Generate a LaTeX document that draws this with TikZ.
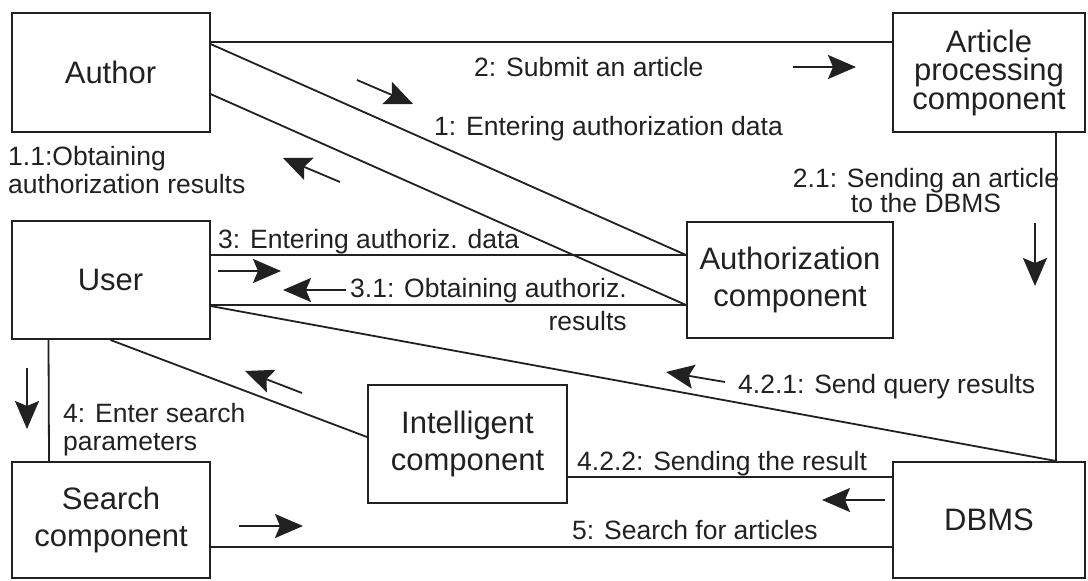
\documentclass[tikz,border=0pt]{standalone}
\usepackage{fontspec}
\setmainfont{Liberation Sans}
\usetikzlibrary{arrows.meta}
\definecolor{ink}{rgb}{0.13,0.13,0.13}
\begin{document}
\begin{tikzpicture}[x=1pt,y=-1pt,
  box/.style={draw=ink,text=ink,line width=2pt,inner sep=0pt,align=center,font=\fontsize{31}{37}\selectfont},
  lnk/.style={draw=ink,line width=1.8pt},
  arr/.style={draw=ink,fill=ink,line width=1.8pt,-{Stealth[length=28pt,width=24pt,inset=5pt]}},
  lbl/.style={inner sep=0pt,text=ink,font=\fontsize{26.5}{28}\selectfont},
]
\useasboundingbox (0,0) rectangle (1088,581);
\fill[white] (0,0) rectangle (1088,581);
% boxes
\node[box,minimum width=198pt,minimum height=119pt] (author) at (110.5,72.5) {Author};
\node[box,minimum width=192pt,minimum height=119pt,font=\fontsize{31}{28.5}\selectfont] (article) at (989,72.5) {Article\\processing\\component};
\node[box,minimum width=198pt,minimum height=118pt] (user) at (110.5,280) {User};
\node[box,minimum width=206pt,minimum height=116pt] (auth) at (790,280) {Authorization\\component};
\node[box,minimum width=199pt,minimum height=118pt] (intel) at (467.5,444) {Intelligent\\component};
\node[box,minimum width=198pt,minimum height=116pt] (search) at (111,520) {Search\\component};
\node[box,minimum width=192pt,minimum height=116pt] (dbms) at (989,520) {DBMS};
% connectors
\draw[lnk] ([yshift=-30pt]author.north east) -- ([yshift=-30pt]article.north west);
\draw[lnk] ([yshift=-32pt]author.north east) -- ([yshift=-34pt]auth.north west);
\draw[lnk] ([yshift=-82pt]author.north east) -- ([yshift=-84pt]auth.north west);
\draw[lnk] ([yshift=-35pt]user.north east) -- ([yshift=-34pt]auth.north west);
\draw[lnk] ([yshift=-85pt]user.north east) -- ([yshift=-84pt]auth.north west);
\draw[lnk] ([yshift=-86pt]user.north east) -- ([xshift=-30pt]dbms.north east);
\draw[lnk] ([xshift=-30pt]article.south east) -- ([xshift=-30pt]dbms.north east);
\draw[lnk] ([xshift=38pt]user.south west) -- ([xshift=38pt]search.north west);
\draw[lnk] (user.south) -- ([yshift=-53pt]intel.north west);
\draw[lnk] ([yshift=-93pt]intel.north east) -- ([yshift=-16pt]dbms.north west);
\draw[lnk] ([yshift=-86pt]search.north east) -- ([yshift=-86pt]dbms.north west);
% direction arrows
\coordinate (a1s) at (357,80);  \coordinate (a1e) at (413,104);
\coordinate (a2s) at (340,182); \coordinate (a2e) at (283,158);
\coordinate (a3s) at (793,67);  \coordinate (a3e) at (856,67);
\coordinate (a4s) at (1035,223); \coordinate (a4e) at (1035,286);
\coordinate (a5s) at (218,271); \coordinate (a5e) at (281,271);
\coordinate (a6s) at (346,290); \coordinate (a6e) at (283,290);
\coordinate (a7s) at (725,382); \coordinate (a7e) at (666,372);
\coordinate (a8s) at (302,393); \coordinate (a8e) at (245,371);
\coordinate (a9s) at (27,368);  \coordinate (a9e) at (27,429);
\coordinate (a10s) at (885,500); \coordinate (a10e) at (822,500);
\coordinate (a11s) at (239,526); \coordinate (a11e) at (303,526);
\foreach \i in {1,...,11} \draw[arr] (a\i s) -- (a\i e);
% labels (multi-line nodes: base anchor = last line's baseline)
\node[lbl,anchor=base west] (l2) at (474,76) {2: Submit an article};
\node[lbl,anchor=base west] (l1) at (434,135) {1: Entering authorization data};
\node[lbl,anchor=base west,align=left] (l11) at (8,193) {1.1:Obtaining\\authorization results};
\node[lbl,anchor=base,align=center,font=\fontsize{26.5}{25}\selectfont] (l21) at (926,212) {2.1: Sending an article\\to the DBMS};
\node[lbl,anchor=base west] (l3) at (218,248) {3: Entering authoriz. data};
\node[lbl,anchor=base west,align=right,font=\fontsize{26.5}{33}\selectfont] (l31) at (350,330) {3.1: Obtaining authoriz.\\results};
\node[lbl,anchor=base west] (l421) at (738,393) {4.2.1: Send query results};
\node[lbl,anchor=base west,align=left] (l4) at (63,450) {4: Enter search\\parameters};
\node[lbl,anchor=base west] (l422) at (577,470) {4.2.2: Sending the result};
\node[lbl,anchor=base west] (l5) at (572,539) {5: Search for articles};
\end{tikzpicture}
\end{document}
